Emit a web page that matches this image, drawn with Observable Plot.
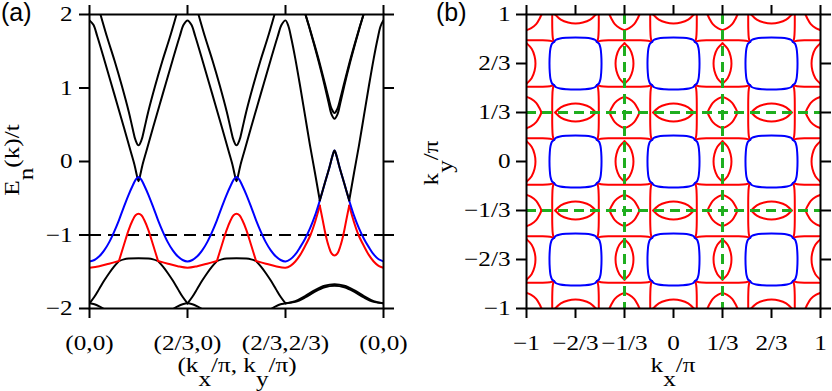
<!DOCTYPE html>
<html><head><meta charset="utf-8">
<script src="https://cdn.jsdelivr.net/npm/d3@7"></script>
<script src="https://cdn.jsdelivr.net/npm/@observablehq/plot@0.6"></script>
<style>
body{margin:0;background:#fff;}
#wrap{position:relative;width:832px;height:391px;overflow:hidden;background:#fff;}
#pa,#pb{position:absolute;top:0;}
#pa{left:0}#pb{left:416px}
#ov{position:absolute;left:0;top:0;pointer-events:none}
</style></head><body><div id="wrap"><div id="pa"></div><div id="pb"></div>
<svg id="ov" width="832" height="391"></svg></div>
<script>
// ---------------- Panel (a): band structure, t = position along path (0..3) ----------------
const xTicksA = [0, 1, 2, 3];
const xTickLabelsA = ["(0,0)", "(2/3,0)", "(2/3,2/3)", "(0,0)"];
const yTicksA = [-2, -1, 0, 1, 2];
const yTickLabelsA = ["\u22122", "\u22121", "0", "1", "2"];
const fermiLevel = -1;

// black bands, each as a list of pieces [t, E]
const bandLower = [
  [[0,1.92],[0.04,1.86],[0.08,1.7],[0.153,1.374],[0.25,0.93],[0.35,0.47],[0.42,0.14],[0.46,-0.05],[0.48,-0.17],[0.5,-0.268],[0.52,-0.17],[0.54,-0.05],[0.58,0.14],[0.65,0.47],[0.75,0.93],[0.847,1.374],[0.92,1.7],[0.96,1.86],[1,1.92],
   [1.04,1.86],[1.08,1.7],[1.153,1.374],[1.25,0.93],[1.35,0.47],[1.42,0.14],[1.46,-0.05],[1.48,-0.17],[1.5,-0.268],[1.52,-0.17],[1.54,-0.05],[1.58,0.14],[1.65,0.47],[1.75,0.93],[1.847,1.374],[1.92,1.7],[1.96,1.86],[2,1.92],
   [2.03,1.84],[2.06,1.67],[2.1,1.4],[2.15,1.02],[2.2,0.62],[2.25,0.22],[2.3,-0.15],[2.35,-0.53]],
  [[2.65,-0.53],[2.7,-0.15],[2.75,0.22],[2.8,0.62],[2.85,1.02],[2.9,1.4],[2.94,1.67],[2.97,1.84],[3,1.92]]
];
const bandPeak = [
  [[2.35,-0.53],[2.4,-0.3],[2.45,-0.07],[2.48,0.08],[2.5,0.15],[2.52,0.08],[2.55,-0.07],[2.6,-0.3],[2.65,-0.53]]
];
const bandUpper = [
  [[0.09,2.1],[0.112,2.0],[0.18,1.69],[0.255,1.374],[0.33,1.03],[0.4,0.68],[0.44,0.45],[0.47,0.29],[0.5,0.22],[0.53,0.29],[0.56,0.45],[0.6,0.68],[0.67,1.03],[0.745,1.374],[0.82,1.69],[0.888,2.0],[0.91,2.1]],
  [[1.09,2.1],[1.112,2.0],[1.18,1.69],[1.255,1.374],[1.33,1.03],[1.4,0.68],[1.44,0.45],[1.47,0.29],[1.5,0.22],[1.53,0.29],[1.56,0.45],[1.6,0.68],[1.67,1.03],[1.745,1.374],[1.82,1.69],[1.888,2.0],[1.91,2.1]],
  [[2.18,2.12],[2.204,2.0],[2.25,1.8],[2.3,1.57],[2.35,1.33],[2.4,1.07],[2.44,0.86],[2.47,0.72],[2.5,0.66],[2.53,0.72],[2.56,0.86],[2.6,1.07],[2.65,1.33],[2.7,1.57],[2.75,1.8],[2.796,2.0],[2.82,2.12]],
  [[2.18,2.12],[2.204,2.0],[2.25,1.79],[2.3,1.55],[2.35,1.3],[2.4,1.03],[2.44,0.8],[2.47,0.64],[2.5,0.58],[2.53,0.64],[2.56,0.8],[2.6,1.03],[2.65,1.3],[2.7,1.55],[2.75,1.79],[2.796,2.0],[2.82,2.12]]
];
const bandFlat = [
  [[0,-1.93],[0.05,-1.84],[0.1,-1.73],[0.15,-1.62],[0.2,-1.52],[0.25,-1.43],[0.3,-1.355]],
  [[0.3,-1.355],[0.35,-1.332],[0.4,-1.32],[0.5,-1.315],[0.6,-1.32],[0.65,-1.332],[0.7,-1.355]],
  [[0.7,-1.355],[0.75,-1.43],[0.8,-1.52],[0.85,-1.62],[0.9,-1.73],[0.95,-1.84],[1,-1.93]],
  [[1,-1.93],[1.05,-1.84],[1.1,-1.73],[1.15,-1.62],[1.2,-1.52],[1.25,-1.43],[1.3,-1.355]],
  [[1.3,-1.355],[1.35,-1.332],[1.4,-1.32],[1.5,-1.315],[1.6,-1.32],[1.65,-1.332],[1.7,-1.355]],
  [[1.7,-1.355],[1.75,-1.43],[1.8,-1.52],[1.85,-1.62],[1.9,-1.73],[1.95,-1.84],[2,-1.93]]
];
const bandBottom = [
  [[0,-1.93],[0.05,-1.943],[0.1,-1.972],[0.15,-2.01],[0.18,-2.04]],
  [[0.82,-2.04],[0.85,-2.01],[0.9,-1.972],[0.95,-1.943],[1,-1.93],[1.05,-1.943],[1.1,-1.972],[1.15,-2.01],[1.18,-2.04]],
  [[1.82,-2.04],[1.85,-2.01],[1.9,-1.972],[1.95,-1.943],[2,-1.93],[2.1,-1.9],[2.2,-1.83],[2.3,-1.75],[2.4,-1.69],[2.5,-1.67],[2.6,-1.69],[2.7,-1.75],[2.8,-1.83],[2.9,-1.9],[3,-1.93]],
  [[2,-1.93],[2.1,-1.91],[2.2,-1.85],[2.3,-1.77],[2.4,-1.71],[2.5,-1.69],[2.6,-1.71],[2.7,-1.77],[2.8,-1.85],[2.9,-1.91],[3,-1.93]]
];
const bandBlue = [
  [[0,-1.36],[0.05,-1.34],[0.1,-1.29],[0.15,-1.21],[0.2,-1.1],[0.25,-0.96],[0.3,-0.8],[0.35,-0.62],[0.4,-0.45],[0.44,-0.33],[0.47,-0.25],[0.5,-0.21],[0.53,-0.25],[0.56,-0.33],[0.6,-0.45],[0.65,-0.62],[0.7,-0.8],[0.75,-0.96],[0.8,-1.1],[0.85,-1.21],[0.9,-1.29],[0.95,-1.34],[1,-1.36],
   [1.05,-1.34],[1.1,-1.29],[1.15,-1.21],[1.2,-1.1],[1.25,-0.96],[1.3,-0.8],[1.35,-0.62],[1.4,-0.45],[1.44,-0.33],[1.47,-0.25],[1.5,-0.21],[1.53,-0.25],[1.56,-0.33],[1.6,-0.45],[1.65,-0.62],[1.7,-0.8],[1.75,-0.96],[1.8,-1.1],[1.85,-1.21],[1.9,-1.29],[1.95,-1.34],[2,-1.36],
   [2.05,-1.33],[2.1,-1.265],[2.15,-1.165],[2.2,-1.05],[2.25,-0.91],[2.3,-0.74],[2.35,-0.53]],
  [[2.35,-0.53],[2.4,-0.3],[2.45,-0.07],[2.48,0.08],[2.5,0.15],[2.52,0.08],[2.55,-0.07],[2.6,-0.3],[2.65,-0.53]],
  [[2.65,-0.53],[2.7,-0.74],[2.75,-0.91],[2.8,-1.05],[2.85,-1.165],[2.9,-1.265],[2.95,-1.33],[3,-1.36]]
];
const bandRed = [
  [[0,-1.446],[0.1,-1.425],[0.2,-1.39],[0.3,-1.355]],
  [[0.3,-1.355],[0.35,-1.14],[0.4,-0.93],[0.44,-0.8],[0.47,-0.73],[0.5,-0.71],[0.53,-0.73],[0.56,-0.8],[0.6,-0.93],[0.65,-1.14],[0.7,-1.355]],
  [[0.7,-1.355],[0.8,-1.39],[0.9,-1.425],[1,-1.446],[1.1,-1.425],[1.2,-1.39],[1.3,-1.355]],
  [[1.3,-1.355],[1.35,-1.14],[1.4,-0.93],[1.44,-0.8],[1.47,-0.73],[1.5,-0.71],[1.53,-0.73],[1.56,-0.8],[1.6,-0.93],[1.65,-1.14],[1.7,-1.355]],
  [[1.7,-1.355],[1.8,-1.39],[1.9,-1.425],[2,-1.446],[2.05,-1.42],[2.1,-1.36],[2.15,-1.27],[2.2,-1.15],[2.255,-1.0],[2.3,-0.83],[2.35,-0.6]],
  [[2.35,-0.6],[2.38,-0.8],[2.41,-1.0],[2.44,-1.15],[2.47,-1.25],[2.5,-1.28],[2.53,-1.25],[2.56,-1.15],[2.59,-1.0],[2.62,-0.8],[2.65,-0.6]],
  [[2.65,-0.6],[2.7,-0.83],[2.745,-1.0],[2.8,-1.15],[2.85,-1.27],[2.9,-1.36],[2.95,-1.42],[3,-1.446]]
];

// ---------------- Panel (b): Fermi surface, k in units of pi ----------------
const kTicks = [-1, -2/3, -1/3, 0, 1/3, 2/3, 1];
const kTickLabels = ["\u22121", "\u22122/3", "\u22121/3", "0", "1/3", "2/3", "1"];
const blueCentersX = [-2/3, 0, 2/3];
const blueCentersY = [-2/3, 0, 2/3];
const redCentersX = [-1, -1/3, 1/3, 1];
const redCentersY = [-1, -1/3, 1/3, 1];
const greenLines = [-1/3, 1/3];

// outline templates (relative to their centre)
const blueSquare = [[0.177,0],[0.175,0.06],[0.17,0.105],[0.16,0.135],[0.146,0.146],[0.135,0.16],[0.105,0.17],[0.06,0.175],[0,0.177],[-0.06,0.175],[-0.105,0.17],[-0.135,0.16],[-0.146,0.146],[-0.16,0.135],[-0.17,0.105],[-0.175,0.06],[-0.177,0],[-0.175,-0.06],[-0.17,-0.105],[-0.16,-0.135],[-0.146,-0.146],[-0.135,-0.16],[-0.105,-0.17],[-0.06,-0.175],[0,-0.177],[0.06,-0.175],[0.105,-0.17],[0.135,-0.16],[0.146,-0.146],[0.16,-0.135],[0.17,-0.105],[0.175,-0.06]];
const redSquareSides = [
  [[-0.186,0.186],[-0.16,0.179],[-0.1,0.1755],[0,0.175],[0.1,0.1755],[0.16,0.179],[0.186,0.186]],
  [[-0.186,-0.186],[-0.16,-0.179],[-0.1,-0.1755],[0,-0.175],[0.1,-0.1755],[0.16,-0.179],[0.186,-0.186]],
  [[0.186,-0.186],[0.179,-0.16],[0.1755,-0.1],[0.175,0],[0.1755,0.1],[0.179,0.16],[0.186,0.186]],
  [[-0.186,-0.186],[-0.179,-0.16],[-0.1755,-0.1],[-0.175,0],[-0.1755,0.1],[-0.179,0.16],[-0.186,0.186]]
];
const diamondSides = [
  [[0.102,0],[0.088,0.03],[0.066,0.066],[0.032,0.093],[0,0.106]],
  [[0,0.106],[-0.032,0.093],[-0.066,0.066],[-0.088,0.03],[-0.102,0]],
  [[-0.102,0],[-0.088,-0.03],[-0.066,-0.066],[-0.032,-0.093],[0,-0.106]],
  [[0,-0.106],[0.032,-0.093],[0.066,-0.066],[0.088,-0.03],[0.102,0]]
];
const lensH = [
  [[-0.138,0],[-0.1,0.035],[-0.05,0.055],[0,0.061],[0.05,0.055],[0.1,0.035],[0.138,0]],
  [[-0.138,0],[-0.1,-0.035],[-0.05,-0.055],[0,-0.061],[0.05,-0.055],[0.1,-0.035],[0.138,0]]
];
const lensV = [
  [[0,-0.138],[0.035,-0.1],[0.055,-0.05],[0.061,0],[0.055,0.05],[0.035,0.1],[0,0.138]],
  [[0,-0.138],[-0.035,-0.1],[-0.055,-0.05],[-0.061,0],[-0.055,0.05],[-0.035,0.1],[0,0.138]]
];

// ---------------- build tables ----------------
function bandRows(name, pieces) {
  const rows = [];
  pieces.forEach((p, i) => p.forEach(([t, E]) => rows.push({t, E, id: name + i})));
  return rows;
}
const blackRows = [
  ...bandRows("L", bandLower), ...bandRows("U", bandUpper),
  ...bandRows("F", bandFlat), ...bandRows("B", bandBottom)
];
const peakRows = bandRows("P", bandPeak);
const blueRows = bandRows("blue", bandBlue);
const redRows = bandRows("red", bandRed);

function shapeRows(prefix, pieces, xs, ys) {
  const rows = [];
  xs.forEach((cx, a) => ys.forEach((cy, b) => pieces.forEach((p, i) =>
    p.forEach(([dx, dy]) => rows.push({kx: cx + dx, ky: cy + dy, id: `${prefix}-${a}-${b}-${i}`})))));
  return rows;
}
const blueFS = shapeRows("bs", [blueSquare], blueCentersX, blueCentersY);
const redFS = [
  ...shapeRows("rs", redSquareSides, redCentersX, redCentersY),
  ...shapeRows("dm", diamondSides, redCentersX, redCentersY),
  ...shapeRows("lv", lensV, redCentersX, blueCentersY),
  ...shapeRows("lh", lensH, blueCentersX, redCentersY)
];

const FONT = "'Liberation Serif','Times New Roman',serif";
const TICK_FS = 21, SX = 1.2;
const LW = 2;
const baseStyle = {fontFamily: FONT, fontSize: TICK_FS + "px", background: "transparent", overflow: "visible", color: "black"};
const lab = (ticks, labels) => d => labels[ticks.indexOf(d)];

const plotA = Plot.plot({
  width: 416, height: 391, marginLeft: 89, marginRight: 33, marginTop: 14, marginBottom: 83,
  x: {domain: [0, 3]}, y: {domain: [-2, 2]},
  style: baseStyle,
  marks: [
    Plot.ruleY([fermiLevel], {stroke: "black", strokeWidth: 2, strokeDasharray: "12,7"}),
    Plot.line(blackRows, {x: "t", y: "E", z: "id", stroke: "black", strokeWidth: LW, curve: "catmull-rom", clip: true}),
    Plot.line(redRows, {x: "t", y: "E", z: "id", stroke: "#ff0000", strokeWidth: LW, curve: "catmull-rom", clip: true}),
    Plot.line(blueRows, {x: "t", y: "E", z: "id", stroke: "#0000ff", strokeWidth: LW, curve: "catmull-rom", clip: true}),
    Plot.line(peakRows, {x: "t", y: "E", z: "id", stroke: "black", strokeWidth: LW, curve: "catmull-rom", clip: true}),
    Plot.axisX({anchor: "bottom", ticks: xTicksA, tickFormat: lab(xTicksA, xTickLabelsA), tickSize: 10, tickPadding: 17, strokeWidth: 2, label: null}),
    Plot.axisX({anchor: "top", ticks: xTicksA, tickFormat: () => "", tickSize: 10, strokeWidth: 2, label: null}),
    Plot.axisY({anchor: "left", ticks: yTicksA, tickFormat: lab(yTicksA, yTickLabelsA), tickSize: 10, tickPadding: 7, strokeWidth: 2, label: null}),
    Plot.axisY({anchor: "right", ticks: yTicksA, tickFormat: () => "", tickSize: 10, strokeWidth: 2, label: null}),
    Plot.frame({stroke: "black", strokeWidth: 2})
  ]
});

const plotB = Plot.plot({
  width: 416, height: 391, marginLeft: 110, marginRight: 12, marginTop: 14, marginBottom: 83,
  x: {domain: [-1, 1]}, y: {domain: [-1, 1]},
  style: baseStyle,
  marks: [
    Plot.line(redFS, {x: "kx", y: "ky", z: "id", stroke: "#ff0000", strokeWidth: LW, curve: "catmull-rom", clip: true}),
    Plot.line(blueFS, {x: "kx", y: "ky", z: "id", stroke: "#0000ff", strokeWidth: LW, curve: "catmull-rom-closed", clip: true}),
    Plot.ruleX(greenLines, {stroke: "#1fae1f", strokeWidth: 3, strokeDasharray: "10,6"}),
    Plot.ruleY(greenLines, {stroke: "#1fae1f", strokeWidth: 3, strokeDasharray: "10,6"}),
    Plot.axisX({anchor: "bottom", ticks: kTicks, tickFormat: lab(kTicks, kTickLabels), tickSize: 10, tickPadding: 17, strokeWidth: 2, label: null}),
    Plot.axisX({anchor: "top", ticks: kTicks, tickFormat: () => "", tickSize: 10, strokeWidth: 2, label: null}),
    Plot.axisY({anchor: "left", ticks: kTicks, tickFormat: lab(kTicks, kTickLabels), tickSize: 10, tickPadding: 6, strokeWidth: 2, label: null}),
    Plot.axisY({anchor: "right", ticks: kTicks, tickFormat: () => "", tickSize: 10, strokeWidth: 2, label: null}),
    Plot.frame({stroke: "black", strokeWidth: 2})
  ]
});

document.getElementById("pa").appendChild(plotA);
document.getElementById("pb").appendChild(plotB);

// horizontally widen tick labels about their anchor (the reference type is wide)
function widen(svg) {
  svg.querySelectorAll("text").forEach(el => {
    if (!el.textContent) return;
    const b = el.getBBox();
    const anchor = getComputedStyle(el).textAnchor;
    const ax = anchor === "end" ? b.x + b.width : anchor === "start" ? b.x : b.x + b.width / 2;
    const tr = el.getAttribute("transform") || "";
    el.setAttribute("transform", `${tr} translate(${ax},0) scale(${SX},1) translate(${-ax},0)`);
  });
}
widen(plotA); widen(plotB);

// ---------------- titles ----------------
const ov = d3.select("#ov");
function title(x, y, parts, opts = {}) {
  const g = ov.append("g").attr("transform", `translate(${x},${y})${opts.rotate ? " rotate(" + opts.rotate + ")" : ""} scale(${opts.sx || SX},1)`);
  const t = g.append("text").attr("font-family", opts.family || FONT).attr("font-size", opts.size || TICK_FS)
    .attr("text-anchor", opts.anchor || "middle").attr("fill", "black");
  let sub = false;
  parts.forEach(([s, isSub]) => {
    const dy = isSub && !sub ? 14 : (!isSub && sub ? -14 : 0);
    t.append("tspan").attr("dy", dy).text(s);
    sub = isSub;
  });
}
title(237, 372, [["(k", 0], ["x", 1], ["/\u03c0, k", 0], ["y", 1], ["/\u03c0)", 0]]);
title(673, 372, [["k", 0], ["x", 1], ["/\u03c0", 0]]);
title(19, 160, [["E", 0], ["n", 1], ["(k)/t", 0]], {rotate: -90});
title(438, 163, [["k", 0], ["y", 1], ["/\u03c0", 0]], {rotate: -90});
title(1, 21, [["(a)", 0]], {family: "'Liberation Sans',Arial,sans-serif", size: 25, anchor: "start", sx: 1});
title(436, 21, [["(b)", 0]], {family: "'Liberation Sans',Arial,sans-serif", size: 25, anchor: "start", sx: 1});
</script></body></html>
